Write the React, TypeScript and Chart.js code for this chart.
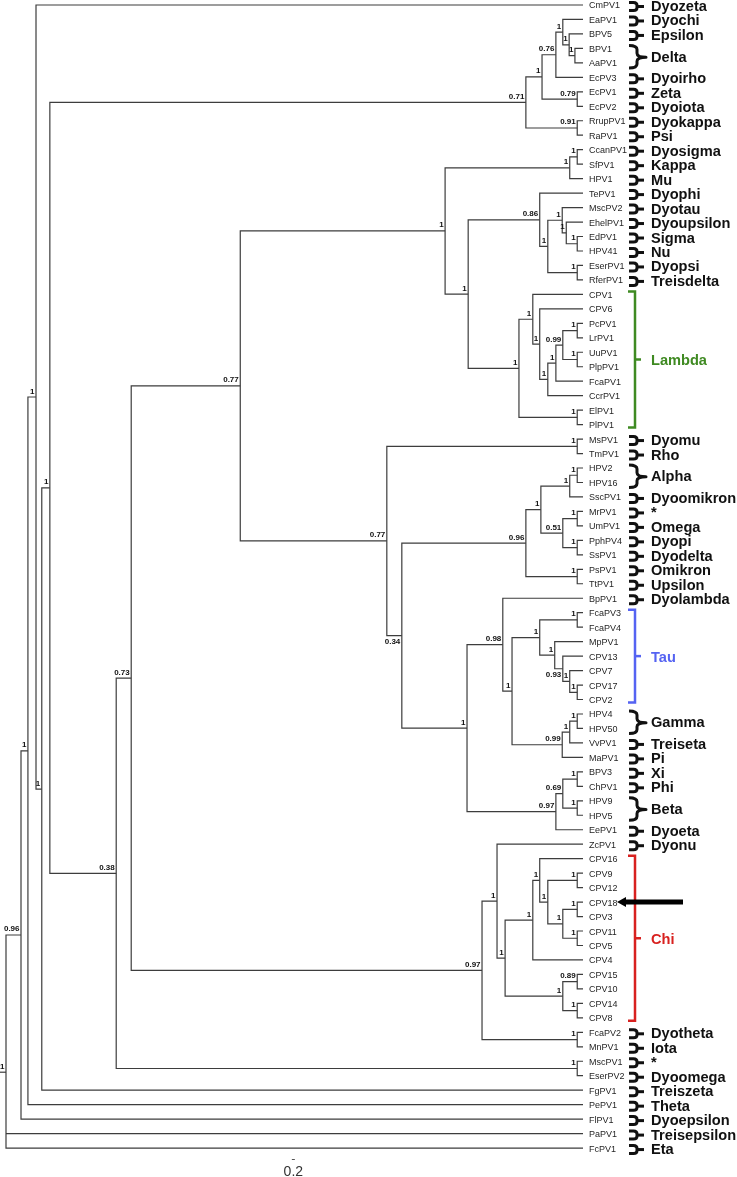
import React, { useEffect, useRef } from "react";
import { Chart, registerables } from "chart.js";

Chart.register(...registerables);

// ---- data -----------------------------------------------------------
const LEAVES = [
  "CmPV1", "EaPV1", "BPV5", "BPV1", "AaPV1", "EcPV3", "EcPV1", "EcPV2", "RrupPV1", "RaPV1",
  "CcanPV1", "SfPV1", "HPV1", "TePV1", "MscPV2", "EhelPV1", "EdPV1", "HPV41", "EserPV1", "RferPV1",
  "CPV1", "CPV6", "PcPV1", "LrPV1", "UuPV1", "PlpPV1", "FcaPV1", "CcrPV1", "ElPV1", "PlPV1",
  "MsPV1", "TmPV1", "HPV2", "HPV16", "SscPV1", "MrPV1", "UmPV1", "PphPV4", "SsPV1", "PsPV1",
  "TtPV1", "BpPV1", "FcaPV3", "FcaPV4", "MpPV1", "CPV13", "CPV7", "CPV17", "CPV2", "HPV4",
  "HPV50", "VvPV1", "MaPV1", "BPV3", "ChPV1", "HPV9", "HPV5", "EePV1", "ZcPV1", "CPV16",
  "CPV9", "CPV12", "CPV18", "CPV3", "CPV11", "CPV5", "CPV4", "CPV15", "CPV10", "CPV14",
  "CPV8", "FcaPV2", "MnPV1", "MscPV1", "EserPV2", "FgPV1", "PePV1", "FlPV1", "PaPV1", "FcPV1",
];

const TIP_DEPTH = 100;
const ROOT_STUB = -1.04;

// [node id, children, depth (0 = root, 100 = tips), support, label below]
type NodeRow = [string, string[], number, string, boolean?];
const NODES: NodeRow[] = [
  ["A", ["BPV1", "AaPV1"], 98.6, "1"],
  ["B", ["BPV5", "A"], 97.6, "1"],
  ["C", ["EaPV1", "B"], 96.5, "1"],
  ["D", ["C", "EcPV3"], 95.3, "0.76"],
  ["F", ["EcPV1", "EcPV2"], 99.0, "0.79"],
  ["E", ["D", "F"], 92.9, "1"],
  ["G", ["RrupPV1", "RaPV1"], 99.0, "0.91"],
  ["H", ["E", "G"], 90.1, "0.71"],
  ["CS", ["CcanPV1", "SfPV1"], 99.0, "1"],
  ["MU", ["CS", "HPV1"], 97.7, "1"],
  ["P", ["EdPV1", "HPV41"], 99.0, "1"],
  ["O", ["EhelPV1", "P"], 97.1, "1"],
  ["N", ["MscPV2", "O"], 96.4, "1"],
  ["ER", ["EserPV1", "RferPV1"], 99.0, "1"],
  ["M", ["N", "ER"], 93.9, "1"],
  ["L", ["TePV1", "M"], 92.5, "0.86"],
  ["PL", ["PcPV1", "LrPV1"], 99.0, "1"],
  ["UP", ["UuPV1", "PlpPV1"], 99.0, "1"],
  ["U", ["PL", "UP"], 96.5, "0.99"],
  ["T", ["U", "FcaPV1"], 95.3, "1"],
  ["S", ["T", "CcrPV1"], 93.9, "1"],
  ["R", ["CPV6", "S"], 92.5, "1"],
  ["Q", ["CPV1", "R"], 91.3, "1"],
  ["EP", ["ElPV1", "PlPV1"], 99.0, "1"],
  ["K", ["Q", "EP"], 88.9, "1"],
  ["J", ["L", "K"], 80.1, "1"],
  ["I", ["MU", "J"], 76.1, "1"],
  ["MT", ["MsPV1", "TmPV1"], 99.0, "1"],
  ["AL", ["HPV2", "HPV16"], 99.0, "1"],
  ["Z2", ["AL", "SscPV1"], 97.7, "1"],
  ["MR", ["MrPV1", "UmPV1"], 99.0, "1"],
  ["PS", ["PphPV4", "SsPV1"], 99.0, "1"],
  ["Z3", ["MR", "PS"], 96.5, "0.51"],
  ["Z1", ["Z2", "Z3"], 92.7, "1"],
  ["PT", ["PsPV1", "TtPV1"], 99.0, "1"],
  ["Z", ["Z1", "PT"], 90.1, "0.96"],
  ["FF", ["FcaPV3", "FcaPV4"], 99.0, "1"],
  ["P1", ["CPV17", "CPV2"], 99.0, "1"],
  ["P2", ["CPV7", "P1"], 97.7, "1"],
  ["P3", ["CPV13", "P2"], 96.5, "0.93", true],
  ["P4", ["MpPV1", "P3"], 95.1, "1"],
  ["P5", ["FF", "P4"], 92.5, "1"],
  ["GH", ["HPV4", "HPV50"], 99.0, "1"],
  ["G3", ["GH", "VvPV1"], 97.7, "1"],
  ["G4", ["G3", "MaPV1"], 96.4, "0.99"],
  ["Q2", ["P5", "G4"], 87.7, "1"],
  ["AB", ["BpPV1", "Q2"], 86.1, "0.98"],
  ["XP", ["BPV3", "ChPV1"], 99.0, "1"],
  ["B9", ["HPV9", "HPV5"], 99.0, "1"],
  ["B1", ["XP", "B9"], 96.5, "0.69"],
  ["BN", ["B1", "EePV1"], 95.3, "0.97"],
  ["AA", ["AB", "BN"], 79.9, "1"],
  ["Y", ["Z", "AA"], 68.6, "0.34", true],
  ["X", ["MT", "Y"], 66.0, "0.77"],
  ["W", ["I", "X"], 40.6, "0.77"],
  ["C7", ["CPV9", "CPV12"], 99.0, "1"],
  ["C9", ["CPV18", "CPV3"], 99.0, "1"],
  ["C10", ["CPV11", "CPV5"], 99.0, "1"],
  ["C8", ["C9", "C10"], 96.5, "1"],
  ["C6", ["C7", "C8"], 93.9, "1"],
  ["C5", ["CPV16", "C6"], 92.5, "1"],
  ["C3", ["C5", "CPV4"], 91.3, "1"],
  ["C11", ["CPV15", "CPV10"], 99.0, "0.89"],
  ["C12", ["CPV14", "CPV8"], 99.0, "1"],
  ["C4", ["C11", "C12"], 96.5, "1"],
  ["C2", ["C3", "C4"], 86.5, "1"],
  ["C1", ["ZcPV1", "C2"], 85.1, "1"],
  ["FM", ["FcaPV2", "MnPV1"], 99.0, "1"],
  ["C0", ["C1", "FM"], 82.5, "0.97"],
  ["N131", ["W", "C0"], 21.7, "0.73"],
  ["ME", ["MscPV1", "EserPV2"], 99.0, "1"],
  ["N116", ["N131", "ME"], 19.1, "0.38"],
  ["N50", ["H", "N116"], 7.6, "1"],
  ["N42", ["N50", "FgPV1"], 6.2, "1"],
  ["N36", ["CmPV1", "N42"], 5.2, "1"],
  ["N28", ["N36", "PePV1"], 3.8, "1"],
  ["N21", ["N28", "FlPV1"], 2.6, "0.96"],
  ["ROOT", ["N21", "PaPV1", "FcPV1"], 0, "1"],
];

// [genus name, first leaf, last leaf]
const CLADES: [string, string, string][] = [
  ["Dyozeta", "CmPV1", "CmPV1"], ["Dyochi", "EaPV1", "EaPV1"], ["Epsilon", "BPV5", "BPV5"],
  ["Delta", "BPV1", "AaPV1"], ["Dyoirho", "EcPV3", "EcPV3"], ["Zeta", "EcPV1", "EcPV1"],
  ["Dyoiota", "EcPV2", "EcPV2"], ["Dyokappa", "RrupPV1", "RrupPV1"], ["Psi", "RaPV1", "RaPV1"],
  ["Dyosigma", "CcanPV1", "CcanPV1"], ["Kappa", "SfPV1", "SfPV1"], ["Mu", "HPV1", "HPV1"],
  ["Dyophi", "TePV1", "TePV1"], ["Dyotau", "MscPV2", "MscPV2"], ["Dyoupsilon", "EhelPV1", "EhelPV1"],
  ["Sigma", "EdPV1", "EdPV1"], ["Nu", "HPV41", "HPV41"], ["Dyopsi", "EserPV1", "EserPV1"],
  ["Treisdelta", "RferPV1", "RferPV1"], ["Dyomu", "MsPV1", "MsPV1"], ["Rho", "TmPV1", "TmPV1"],
  ["Alpha", "HPV2", "HPV16"], ["Dyoomikron", "SscPV1", "SscPV1"], ["*", "MrPV1", "MrPV1"],
  ["Omega", "UmPV1", "UmPV1"], ["Dyopi", "PphPV4", "PphPV4"], ["Dyodelta", "SsPV1", "SsPV1"],
  ["Omikron", "PsPV1", "PsPV1"], ["Upsilon", "TtPV1", "TtPV1"], ["Dyolambda", "BpPV1", "BpPV1"],
  ["Gamma", "HPV4", "HPV50"], ["Treiseta", "VvPV1", "VvPV1"], ["Pi", "MaPV1", "MaPV1"],
  ["Xi", "BPV3", "BPV3"], ["Phi", "ChPV1", "ChPV1"], ["Beta", "HPV9", "HPV5"],
  ["Dyoeta", "EePV1", "EePV1"], ["Dyonu", "ZcPV1", "ZcPV1"], ["Dyotheta", "FcaPV2", "FcaPV2"],
  ["Iota", "MnPV1", "MnPV1"], ["*", "MscPV1", "MscPV1"], ["Dyoomega", "EserPV2", "EserPV2"],
  ["Treiszeta", "FgPV1", "FgPV1"], ["Theta", "PePV1", "PePV1"], ["Dyoepsilon", "FlPV1", "FlPV1"],
  ["Treisepsilon", "PaPV1", "PaPV1"], ["Eta", "FcPV1", "FcPV1"],
];

// [genus name, first leaf, last leaf, colour]
const COLORED_CLADES: [string, string, string, string][] = [
  ["Lambda", "CPV1", "PlPV1", "#3f8a22"],
  ["Tau", "FcaPV3", "CPV2", "#5563f2"],
  ["Chi", "CPV16", "CPV8", "#d8211f"],
];

const ARROW_LEAF = "CPV18";
const SCALE_BAR_AT = 49.8;
const SCALE_BAR_LABEL = "0.2";

// ---- layout ----------------------------------------------------------
function buildLayout() {
  const yOf: Record<string, number> = {};
  const dOf: Record<string, number> = {};
  LEAVES.forEach((n, i) => {
    yOf[n] = i;
    dOf[n] = TIP_DEPTH;
  });
  for (const [id, kids, depth] of NODES) {
    yOf[id] = kids.reduce((s, k) => s + yOf[k], 0) / kids.length;
    dOf[id] = depth;
  }
  return { yOf, dOf };
}

const FONT = '"Liberation Sans", Arial, Helvetica, sans-serif';
const LINE_COLOR = "#3d3d3d";

export default function App() {
  const ref = useRef<HTMLCanvasElement | null>(null);

  useEffect(() => {
    const canvas = ref.current;
    if (!canvas) return;
    const { yOf, dOf } = buildLayout();

    const polylines: { x: number; y: number }[][] = [];
    for (const [id, kids, depth] of NODES) {
      const ks = [...kids].sort((a, b) => yOf[a] - yOf[b]);
      const f = ks[0];
      const l = ks[ks.length - 1];
      polylines.push([
        { x: dOf[f], y: yOf[f] },
        { x: depth, y: yOf[f] },
        { x: depth, y: yOf[l] },
        { x: dOf[l], y: yOf[l] },
      ]);
      for (const m of ks.slice(1, -1)) {
        polylines.push([
          { x: depth, y: yOf[m] },
          { x: dOf[m], y: yOf[m] },
        ]);
      }
      if (id === "ROOT") {
        polylines.push([
          { x: ROOT_STUB, y: yOf[id] },
          { x: depth, y: yOf[id] },
        ]);
      }
    }

    const textPlugin = {
      id: "treeText",
      afterDraw(chart: any) {
        const { ctx, chartArea } = chart;
        const xs = chart.scales.x;
        const ys = chart.scales.y;
        const R = chartArea.right;
        ctx.save();

        // support values
        ctx.font = `bold 8px ${FONT}`;
        ctx.fillStyle = "#111";
        ctx.textAlign = "right";
        ctx.textBaseline = "alphabetic";
        for (const [id, , depth, sup, below] of NODES) {
          const px = xs.getPixelForValue(depth);
          const py = ys.getPixelForValue(yOf[id]);
          ctx.fillText(sup, px - 1.5, below ? py + 8.5 : py - 3.5);
        }

        // genus brackets and names
        ctx.textAlign = "left";
        ctx.strokeStyle = "#111";
        ctx.lineCap = "butt";
        ctx.lineJoin = "round";
        for (const [name, first, last] of CLADES) {
          const y1 = ys.getPixelForValue(yOf[first]);
          const y2 = ys.getPixelForValue(yOf[last]);
          const mid = (y1 + y2) / 2;
          const cy = mid + 1.5;
          if (first === last) {
            ctx.lineWidth = 3;
            ctx.beginPath();
            ctx.moveTo(R + 46, cy - 4);
            ctx.lineTo(R + 50.5, cy - 4);
            ctx.quadraticCurveTo(R + 54, cy - 4, R + 54, cy - 1);
            ctx.lineTo(R + 54, cy + 1);
            ctx.quadraticCurveTo(R + 54, cy + 4, R + 50.5, cy + 4);
            ctx.lineTo(R + 46, cy + 4);
            ctx.stroke();
            ctx.beginPath();
            ctx.moveTo(R + 54, cy);
            ctx.lineTo(R + 61, cy);
            ctx.stroke();
          } else {
            const top = y1 - 3;
            const bot = y2 + 5;
            ctx.lineWidth = 3;
            ctx.beginPath();
            ctx.moveTo(R + 46, top);
            ctx.quadraticCurveTo(R + 54, top, R + 54, top + 4);
            ctx.lineTo(R + 54, cy - 4);
            ctx.quadraticCurveTo(R + 54, cy, R + 63, cy);
            ctx.quadraticCurveTo(R + 54, cy, R + 54, cy + 4);
            ctx.lineTo(R + 54, bot - 4);
            ctx.quadraticCurveTo(R + 54, bot, R + 46, bot);
            ctx.stroke();
          }
          ctx.fillStyle = "#111";
          ctx.font = `bold 14.6px ${FONT}`;
          ctx.fillText(name, R + 68, mid + 6);
        }

        // coloured genera
        for (const [name, first, last, col] of COLORED_CLADES) {
          const y1 = ys.getPixelForValue(yOf[first]) - 3;
          const y2 = ys.getPixelForValue(yOf[last]) + 3;
          const cy = (y1 + y2) / 2;
          ctx.strokeStyle = col;
          ctx.lineWidth = 2.5;
          ctx.lineJoin = "miter";
          ctx.beginPath();
          ctx.moveTo(R + 45, y1);
          ctx.lineTo(R + 52, y1);
          ctx.lineTo(R + 52, y2);
          ctx.lineTo(R + 45, y2);
          ctx.stroke();
          ctx.beginPath();
          ctx.moveTo(R + 52, cy);
          ctx.lineTo(R + 58, cy);
          ctx.stroke();
          ctx.fillStyle = col;
          ctx.font = `bold 14.6px ${FONT}`;
          ctx.fillText(name, R + 68, cy + 5.5);
        }

        // arrow
        const ay = ys.getPixelForValue(yOf[ARROW_LEAF]);
        ctx.fillStyle = "#000";
        ctx.strokeStyle = "#000";
        ctx.lineWidth = 5;
        ctx.beginPath();
        ctx.moveTo(R + 41, ay);
        ctx.lineTo(R + 100, ay);
        ctx.stroke();
        ctx.beginPath();
        ctx.moveTo(R + 34, ay);
        ctx.lineTo(R + 43, ay - 5);
        ctx.lineTo(R + 43, ay + 5);
        ctx.closePath();
        ctx.fill();

        // scale bar
        const sx = xs.getPixelForValue(SCALE_BAR_AT);
        ctx.strokeStyle = "#555";
        ctx.lineWidth = 1;
        ctx.beginPath();
        ctx.moveTo(sx - 1.5, 1159.5);
        ctx.lineTo(sx + 1.5, 1159.5);
        ctx.stroke();
        ctx.fillStyle = "#333";
        ctx.font = `14px ${FONT}`;
        ctx.textAlign = "center";
        ctx.fillText(SCALE_BAR_LABEL, sx, 1176);

        ctx.restore();
      },
    };

    const chart = new Chart(canvas, {
      type: "scatter",
      data: {
        datasets: polylines.map((pts) => ({
          data: pts,
          showLine: true,
          borderColor: LINE_COLOR,
          borderWidth: 1.2,
          pointRadius: 0,
          pointHoverRadius: 0,
          fill: false,
          clip: false as any,
          tension: 0,
        })),
      },
      options: {
        responsive: false,
        maintainAspectRatio: false,
        animation: false,
        devicePixelRatio: 1,
        events: [],
        layout: { padding: 0 },
        plugins: {
          legend: { display: false },
          tooltip: { enabled: false },
        },
        scales: {
          x: {
            type: "linear",
            display: false,
            min: ROOT_STUB,
            max: TIP_DEPTH,
          },
          y: {
            type: "linear",
            position: "right",
            reverse: true,
            min: -0.3456,
            max: 81.0,
            grid: { display: false, drawTicks: false },
            border: { display: false },
            ticks: {
              autoSkip: false,
              padding: 6,
              labelOffset: 1,
              color: "#262626",
              font: { family: FONT, size: 9 },
              callback: (_v: any, i: number) => LEAVES[i] ?? "",
            },
            afterBuildTicks: (s: any) => {
              s.ticks = LEAVES.map((_, i) => ({ value: i }));
            },
            afterFit: (s: any) => {
              s.width = 154;
              s.paddingTop = 0;
              s.paddingBottom = 0;
            },
          } as any,
        },
      },
      plugins: [textPlugin],
    });

    return () => chart.destroy();
  }, []);

  return (
    <div style={{ position: "absolute", left: 0, top: 0, width: 737, height: 1177, background: "#fff" }}>
      <canvas ref={ref} width={737} height={1177} style={{ display: "block" }} />
    </div>
  );
}
